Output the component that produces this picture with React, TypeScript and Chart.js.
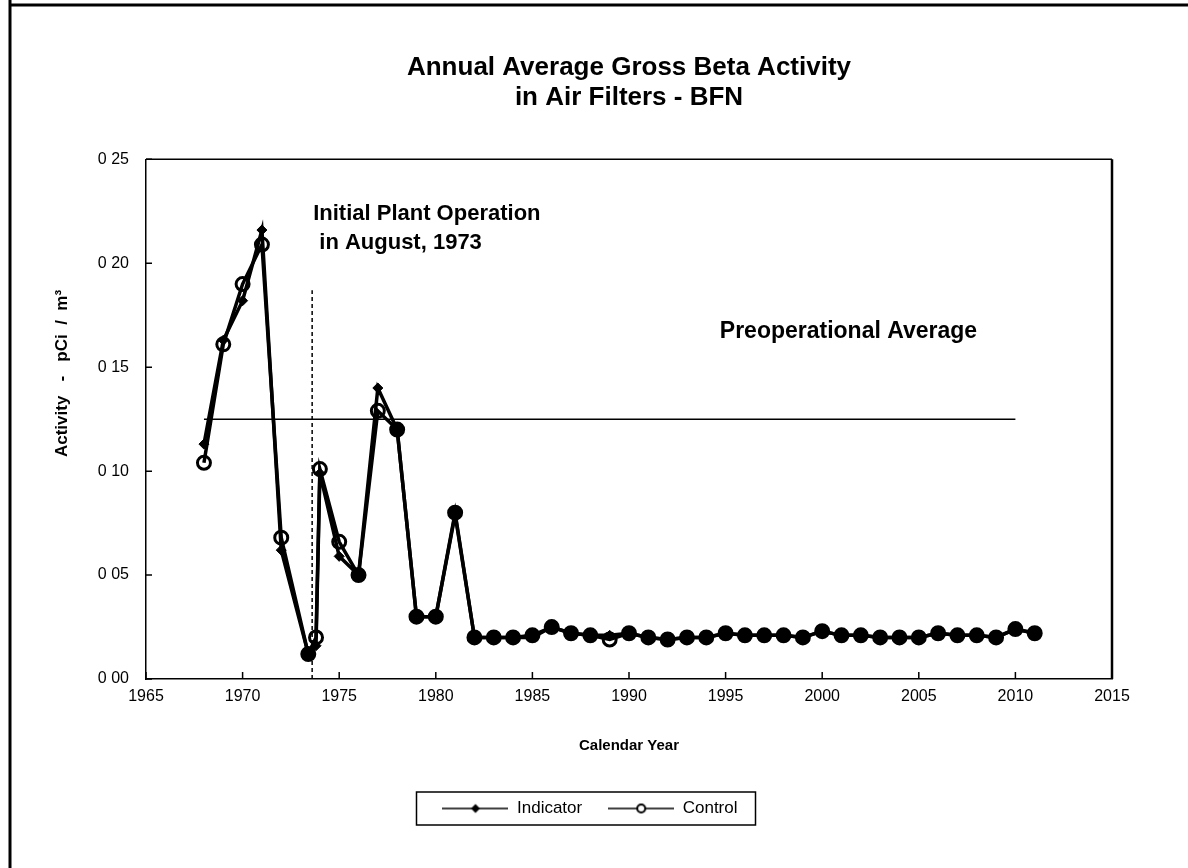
import React, { useEffect, useRef } from "react";
import { Chart, registerables } from "chart.js";

Chart.register(...registerables);

// ---------- data ----------
const years = [
  1968, 1969, 1970, 1971, 1972, 1973.4, 1973.8, 1974, 1975, 1976, 1977, 1978, 1979, 1980, 1981,
  1982, 1983, 1984, 1985, 1986, 1987, 1988, 1989, 1990, 1991, 1992, 1993, 1994, 1995, 1996,
  1997, 1998, 1999, 2000, 2001, 2002, 2003, 2004, 2005, 2006, 2007, 2008, 2009, 2010, 2011,
];
const indicator = [
  0.113, 0.163, 0.182, 0.216, 0.062, 0.012, 0.016, 0.099, 0.059, 0.05, 0.14, 0.12, 0.03, 0.03, 0.079,
  0.02, 0.02, 0.02, 0.02, 0.025, 0.022, 0.021, 0.021, 0.022, 0.02, 0.019, 0.02, 0.02, 0.022, 0.021,
  0.021, 0.021, 0.02, 0.023, 0.021, 0.021, 0.02, 0.02, 0.02, 0.022, 0.021, 0.021, 0.02, 0.024, 0.022,
];
const control = [
  0.104, 0.161, 0.19, 0.209, 0.068, 0.012, 0.02, 0.101, 0.066, 0.05, 0.129, 0.12, 0.03, 0.03, 0.08,
  0.02, 0.02, 0.02, 0.021, 0.025, 0.022, 0.021, 0.019, 0.022, 0.02, 0.019, 0.02, 0.02, 0.022, 0.021,
  0.021, 0.021, 0.02, 0.023, 0.021, 0.021, 0.02, 0.02, 0.02, 0.022, 0.021, 0.021, 0.02, 0.024, 0.022,
];
const preopYears = [1968, 2010];
const preopAverage = 0.125;
const startupYear = 1973.6;
const startupLineValues = [0, 0.187];
const xTickLabels = ["1965", "1970", "1975", "1980", "1985", "1990", "1995", "2000", "2005", "2010", "2015"];
const yTickLabels = ["0 00", "0 05", "0 10", "0 15", "0 20", "0 25"];
const titleLines = ["Annual Average Gross Beta Activity", "in Air Filters - BFN"];
const seriesNames = ["Indicator", "Control"];
const yAxisTitle = "Activity   -   pCi  /  m³";
const xAxisTitle = "Calendar Year";
const startupNote = ["Initial Plant Operation", " in August, 1973"];
const preopNote = "Preoperational Average";

const FONT = "'Liberation Sans', Arial, Helvetica, sans-serif";

function makeLegendImage(kind: "diamond" | "circle"): HTMLCanvasElement {
  const c = document.createElement("canvas");
  c.width = 66;
  c.height = 14;
  const g = c.getContext("2d")!;
  g.strokeStyle = "#000";
  g.lineWidth = 1.5;
  g.beginPath();
  g.moveTo(0, 7);
  g.lineTo(66, 7);
  g.stroke();
  if (kind === "diamond") {
    g.fillStyle = "#000";
    g.beginPath();
    g.moveTo(33, 2.5);
    g.lineTo(37.5, 7);
    g.lineTo(33, 11.5);
    g.lineTo(28.5, 7);
    g.closePath();
    g.fill();
  } else {
    g.fillStyle = "#fff";
    g.lineWidth = 2;
    g.beginPath();
    g.arc(33, 7, 4, 0, Math.PI * 2);
    g.fill();
    g.stroke();
  }
  return c;
}

export default function App() {
  const ref = useRef<HTMLCanvasElement | null>(null);

  useEffect(() => {
    if (!ref.current) return;
    const legendImgs = [makeLegendImage("diamond"), makeLegendImage("circle")];
    const legendCenterX = 590;
    const legendPad = 26;

    const chartPlugin = {
      id: "reportDecor",
      beforeDraw(chart: any) {
        const ctx = chart.ctx;
        ctx.save();
        ctx.fillStyle = "#fff";
        ctx.fillRect(0, 0, chart.width, chart.height);
        ctx.strokeStyle = "#000";
        ctx.lineWidth = 3;
        ctx.beginPath();
        ctx.moveTo(10, 0);
        ctx.lineTo(10, chart.height);
        ctx.moveTo(10, 5);
        ctx.lineTo(chart.width, 5);
        ctx.stroke();
        ctx.restore();
      },
      afterLayout(chart: any) {
        const lg = chart.legend;
        if (lg) {
          const w = lg.right - lg.left;
          lg.left = legendCenterX - w / 2;
          lg.right = legendCenterX + w / 2;
        }
      },
      afterDatasetsDraw(chart: any) {
        const ctx = chart.ctx;
        const xs = chart.scales.x;
        const ys = chart.scales.y;
        ctx.save();
        ctx.fillStyle = "#000";
        ctx.textBaseline = "middle";
        ctx.textAlign = "left";
        ctx.font = `bold 22px ${FONT}`;
        const sx = xs.getPixelForValue(startupYear);
        ctx.fillText(startupNote[0], sx + 1, ys.getPixelForValue(0.2236));
        ctx.fillText(startupNote[1], sx + 1, ys.getPixelForValue(0.2096));
        ctx.font = `bold 23px ${FONT}`;
        ctx.fillText(preopNote, xs.getPixelForValue(1994.7), ys.getPixelForValue(0.167));
        // y axis title
        ctx.font = `bold 17px ${FONT}`;
        ctx.textAlign = "center";
        ctx.translate(62, ys.getPixelForValue(0.147));
        ctx.rotate(-Math.PI / 2);
        ctx.fillText(yAxisTitle, 0, 0);
        ctx.restore();
      },
      afterDraw(chart: any) {
        const ctx = chart.ctx;
        const a = chart.chartArea;
        const xs = chart.scales.x;
        const ys = chart.scales.y;
        ctx.save();
        ctx.strokeStyle = "#000";
        ctx.lineWidth = 1.5;
        ctx.beginPath();
        ctx.moveTo(a.left, a.top);
        ctx.lineTo(a.right, a.top);
        ctx.stroke();
        ctx.lineWidth = 2.5;
        ctx.beginPath();
        ctx.moveTo(a.right, a.top);
        ctx.lineTo(a.right, a.bottom);
        ctx.stroke();
        // inner tick marks
        ctx.lineWidth = 1.5;
        ctx.beginPath();
        xs.ticks.forEach((t: any) => {
          const px = xs.getPixelForValue(t.value);
          ctx.moveTo(px, a.bottom);
          ctx.lineTo(px, a.bottom - 7);
        });
        ys.ticks.forEach((t: any) => {
          const py = ys.getPixelForValue(t.value);
          ctx.moveTo(a.left, py);
          ctx.lineTo(a.left + 6, py);
        });
        ctx.stroke();
        // legend frame
        const lg = chart.legend;
        if (lg && lg.lineWidths) {
          const p = legendPad;
          const total = lg.lineWidths[0] - p;
          const startX = (lg.left + p + lg.right - lg.lineWidths[0]) / 2;
          const cy = lg.top + p + 8.5;
          ctx.lineWidth = 1.5;
          ctx.strokeRect(startX - 26, cy - 16.5, total + 44, 33);
        }
        ctx.restore();
      },
    };

    const pts = (vals: number[]) => years.map((x, i) => ({ x, y: vals[i] }));

    const chart = new Chart(ref.current, {
      type: "line",
      data: {
        datasets: [
          {
            label: seriesNames[0],
            data: pts(indicator),
            borderColor: "#000",
            backgroundColor: "#000",
            borderWidth: 3.5,
            pointStyle: "rectRot",
            pointRadius: 5,
            pointBackgroundColor: "#000",
            pointBorderColor: "#000",
            pointBorderWidth: 1,
            tension: 0,
          },
          {
            label: seriesNames[1],
            data: pts(control),
            borderColor: "#000",
            backgroundColor: "#000",
            borderWidth: 3.5,
            pointStyle: "circle",
            pointRadius: 6.5,
            pointBorderColor: "#000",
            pointBorderWidth: 3,
            pointBackgroundColor: (c: any) => {
              const i = c.dataIndex;
              if (i == null || i < 0) return "rgba(0,0,0,0)";
              return Math.abs(indicator[i] - control[i]) < 0.0015 ? "#000" : "rgba(0,0,0,0)";
            },
            tension: 0,
          },
          {
            label: preopNote,
            data: preopYears.map((x) => ({ x, y: preopAverage })),
            borderColor: "#000",
            borderWidth: 1.5,
            pointRadius: 0,
          },
          {
            label: startupNote[0],
            data: startupLineValues.map((y) => ({ x: startupYear, y })),
            borderColor: "#000",
            borderWidth: 1.5,
            borderDash: [4, 3],
            pointRadius: 0,
          },
        ],
      },
      options: {
        responsive: false,
        animation: false,
        layout: { padding: { top: 10, left: 10, right: 76, bottom: 41 } },
        scales: {
          x: {
            type: "linear",
            min: 1965,
            max: 2015,
            ticks: {
              stepSize: 5,
              color: "#000",
              padding: 8,
              font: { size: 16, family: FONT },
              maxRotation: 0,
              callback: (_v: any, i: number) => xTickLabels[i] ?? "",
            },
            grid: { display: false, drawTicks: false },
            border: { display: true, color: "#000", width: 1.5 },
            title: {
              display: true,
              text: xAxisTitle,
              color: "#000",
              font: { size: 15, weight: "bold", family: FONT, lineHeight: 1.2 },
              padding: { top: 4, bottom: 19 },
            },
            afterFit: (s: any) => {
              s.height = 95;
            },
          },
          y: {
            type: "linear",
            min: 0,
            max: 0.25,
            ticks: {
              stepSize: 0.05,
              color: "#000",
              padding: 17,
              font: { size: 16, family: FONT },
              callback: (_v: any, i: number) => yTickLabels[i] ?? "",
            },
            grid: { display: false, drawTicks: false },
            border: { display: true, color: "#000", width: 1.5 },
            title: { display: false, text: yAxisTitle },
            afterFit: (s: any) => {
              s.width = 136;
            },
          },
        },
        plugins: {
          title: {
            display: true,
            text: titleLines,
            color: "#000",
            fullSize: false,
            font: { size: 26, weight: "bold", family: FONT, lineHeight: 1.18 },
            padding: { top: 42, bottom: 46 },
          },
          legend: {
            display: true,
            position: "bottom",
            fullSize: false,
            labels: {
              color: "#000",
              font: { size: 17, family: FONT },
              usePointStyle: true,
              pointStyleWidth: 66,
              padding: legendPad,
              filter: (item: any) => item.datasetIndex < 2,
              generateLabels: (c: any) =>
                Chart.defaults.plugins.legend.labels
                  .generateLabels(c)
                  .map((it: any) => ({ ...it, pointStyle: legendImgs[it.datasetIndex] ?? it.pointStyle })),
            },
          },
          tooltip: { enabled: false },
        },
      } as any,
      plugins: [chartPlugin],
    });
    return () => chart.destroy();
  }, []);

  return (
    <div style={{ position: "fixed", left: 0, top: 0, width: 1188, height: 868, background: "#fff" }}>
      <canvas ref={ref} width={1188} height={868} style={{ display: "block" }} />
    </div>
  );
}
